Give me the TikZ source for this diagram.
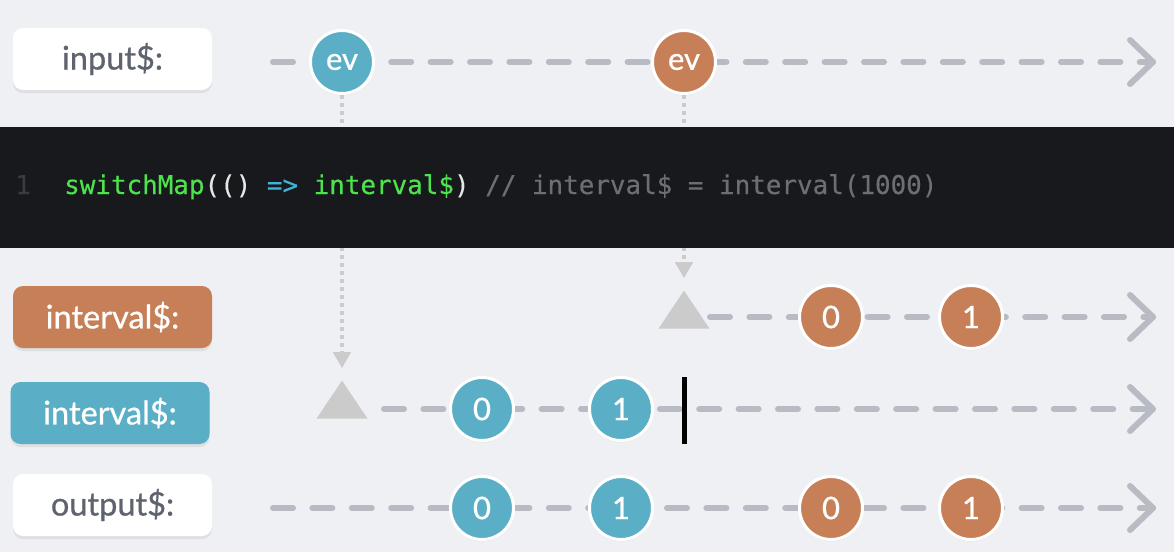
\documentclass[tikz,border=0pt]{standalone}
\usepackage{fontspec}
\setmainfont{Lato}[FakeBold=0.7]
\setmonofont{DejaVu Sans Mono}[FakeBold=0.4]
\usetikzlibrary{positioning,shapes.geometric,arrows.meta,shadows}

\definecolor{bgcol}{HTML}{EFF0F3}
\definecolor{codebg}{HTML}{18191C}
\definecolor{blu}{HTML}{5AAFC7}
\definecolor{org}{HTML}{C67F57}
\definecolor{lblgray}{HTML}{5F6370}
\definecolor{dashgray}{HTML}{B8BBC3}
\definecolor{dotgray}{HTML}{CBCBCB}
\definecolor{codegreen}{HTML}{4DE34D}
\definecolor{codecyan}{HTML}{3FB4D8}
\definecolor{codecomment}{HTML}{6C6E74}
\definecolor{codenum}{HTML}{3A3C40}
\definecolor{codeparen}{HTML}{E6E6E6}

\pgfdeclarelayer{back}
\pgfsetlayers{back,main}

\begin{document}
\begin{tikzpicture}[%
        x=1pt, y=-1pt,
        namebox/.style={rounded corners=10pt, minimum width=199pt, minimum height=62pt,
            inner sep=0pt, font=\fontsize{32.5}{32.5}\selectfont,
            drop shadow={shadow xshift=0pt, shadow yshift=-3pt, opacity=0.15}},
        ev/.style={circle, draw=white, line width=3pt, minimum size=63pt, inner sep=0pt,
            text=white, font=\fontsize{31}{31}\selectfont,
            drop shadow={shadow xshift=0pt, shadow yshift=-2pt, opacity=0.12}},
        blueev/.style={ev, fill=blu},
        orangeev/.style={ev, fill=org},
        subtri/.style={isosceles triangle, shape border rotate=90,
            isosceles triangle apex angle=68, isosceles triangle stretches,
            minimum width=51pt, minimum height=38pt, inner sep=0pt, fill=dotgray},
        timeline/.style={draw=dashgray, line width=6pt, line cap=round,
            dash pattern=on 20pt off 19.4pt},
        chevron/.style={draw=dashgray, line width=6pt, line cap=round, line join=round},
        link/.style={draw=dotgray, line width=4pt, dash pattern=on 4pt off 4pt,
            -{Triangle[width=17pt,length=16pt]}}
        ]
        % labels
        \node[namebox, fill=white, text=lblgray] (lin)  at (112.5,59)  {input\$:};
        \node[namebox, fill=org, text=white]     (lint) at (112.5,317) {interval\$:};
        \node[namebox, fill=blu, text=white]     (lblu) at (110,413)   {interval\$:};
        \node[namebox, fill=white, text=lblgray] (lout) at (112.5,505) {output\$:};

        % code
        \node[anchor=base west, inner sep=0pt, text=codenum,
              font=\fontsize{26}{26}\ttfamily] (lnum) at (15,194) {1};
        \node[anchor=base west, inner sep=0pt,
              font=\fontsize{25.9}{26}\ttfamily] (code) at (64,194)
            {\textcolor{codegreen}{switchMap}\textcolor{codeparen}{(()} \textcolor{codecyan}{=>} \textcolor{codegreen}{interval\$}\textcolor{codeparen}{)} \textcolor{codecomment}{// interval\$ = interval(1000)}};

        % input$
        \node[blueev]   (ev1) at (342,62) {ev};
        \node[orangeev] (ev2) at (684,62) {ev};
        \coordinate (inS) at (273,62);
        \coordinate (inE) at (1153,62);

        % interval$ (orange)
        \node[subtri] (trO) at (684,315) {};
        \node[orangeev] (o0) at (831,317) {0};
        \node[orangeev] (o1) at (971,317) {1};
        \coordinate (oS) at (710,317);
        \coordinate (oE) at (1153,317);

        % interval$ (blue)
        \node[subtri] (trB) at (342,405) {};
        \node[blueev] (b0) at (482,409) {0};
        \node[blueev] (b1) at (621,409) {1};
        \node[fill=black, minimum width=5pt, minimum height=67pt, inner sep=0pt] (stopB) at (684,410) {};
        \coordinate (bS) at (384,409);
        \coordinate (bE) at (1153,409);

        % output$
        \node[blueev]   (r0) at (482,508) {0};
        \node[blueev]   (r1) at (621,508) {1};
        \node[orangeev] (r2) at (831,508) {0};
        \node[orangeev] (r3) at (971,508) {1};
        \coordinate (rS) at (273,508);
        \coordinate (rE) at (1153,508);

        \begin{pgfonlayer}{back}
        \fill[bgcol] (0,0) rectangle (1174,552);
        \useasboundingbox (0,0) rectangle (1174,552);

        % Links:
        \path[link] (ev1.south) -- ([yshift=12pt]trB.north);
        \path[link] (ev2.south) -- ([yshift=12pt]trO.north);

        \fill[codebg] (0,127) rectangle (1174,248);

        % timelines
        \path[timeline] (inS) -- (inE);
        \path[timeline] (oS) -- (oE);
        \path[timeline] (bS) -- (bE);
        \path[timeline] (rS) -- (rE);
        \foreach \e in {inE,oE,bE,rE}
            \path[chevron] ([shift={(-23,-22)}]\e) -- (\e) -- ([shift={(-23,22)}]\e);
        \end{pgfonlayer}
    \end{tikzpicture}
\end{document}
